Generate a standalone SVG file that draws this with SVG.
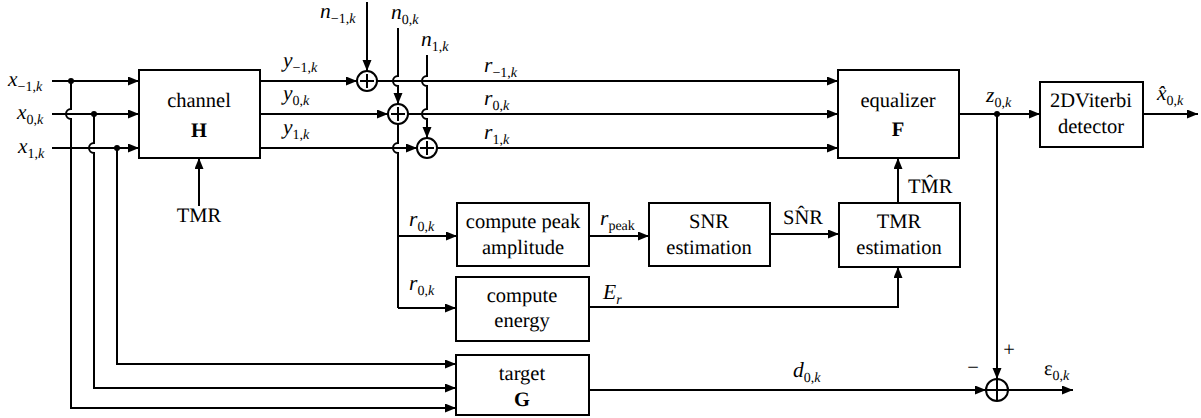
<svg xmlns="http://www.w3.org/2000/svg" width="1201" height="418" viewBox="0 0 1201 418" font-family="'Liberation Serif', 'Times New Roman', serif" text-rendering="geometricPrecision">
<defs>
<marker id="ah" markerUnits="userSpaceOnUse" markerWidth="12" markerHeight="10" refX="11" refY="4.5" orient="auto">
<path d="M0,0 L11,4.5 L0,9 z" fill="#000"/>
</marker>
<style>
.ln{fill:none;stroke:#000;stroke-width:2}
.ar{fill:none;stroke:#000;stroke-width:2;marker-end:url(#ah)}
.bx{fill:#fff;stroke:#000;stroke-width:2}
.sum{fill:#fff;stroke:#000;stroke-width:2}
.t{font-size:20.5px;fill:#000}
.c{text-anchor:middle}
.m{font-size:21.5px;font-style:italic;fill:#000}
.s{font-size:14px;font-style:normal}
.si{font-size:14px;font-style:italic}
.b{font-weight:bold}
</style>
</defs>
<rect width="1201" height="418" fill="#fff"/>

<g id="connectors">
<path class="ar" d="M52,81 H139"/>
<path class="ar" d="M52,114 H139"/>
<path class="ar" d="M52,148 H139"/>
<path class="ar" d="M71,81 V109 A5,5 0 0,0 71,119 V408 H456"/>
<path class="ar" d="M94,114 V143 A5,5 0 0,0 94,153 V388 H456"/>
<path class="ar" d="M117,148 V364 H456"/>
<path class="ar" d="M199,206 V158"/>
<path class="ar" d="M260,81 H357"/>
<path class="ar" d="M260,114 H388"/>
<path class="ar" d="M260,148 H417"/>
<path class="ar" d="M367,2 V71"/>
<path class="ar" d="M398,28 V76 A5,5 0 0,0 398,86 V104"/>
<path class="ar" d="M427,55 V76 A5,5 0 0,0 427,86 V109 A5,5 0 0,0 427,119 V138"/>
<path class="ar" d="M377,81 H838"/>
<path class="ar" d="M408,114 H838"/>
<path class="ar" d="M437,148 H838"/>
<path class="ln" d="M398,124 V143 A5,5 0 0,0 398,153 V308"/>
<path class="ar" d="M398,236 H457"/>
<path class="ar" d="M398,308 H456"/>
<path class="ar" d="M589,236 H649"/>
<path class="ar" d="M770,234 H839"/>
<path class="ar" d="M589,307 H898 V267"/>
<path class="ar" d="M898,203 V158"/>
<path class="ar" d="M959,114 H1040"/>
<path class="ar" d="M1143,114 H1198"/>
<path class="ar" d="M997,114 V379"/>
<path class="ar" d="M589,390 H986"/>
<path class="ar" d="M1008,390 H1073"/>
<circle cx="71" cy="81" r="3" fill="#000"/>
<circle cx="94" cy="114" r="3" fill="#000"/>
<circle cx="117" cy="148" r="3" fill="#000"/>
<circle cx="997" cy="114" r="3" fill="#000"/>
</g>

<g id="sum1"><circle class="sum" cx="367" cy="81" r="10"/><path class="ln" d="M360,81 H374 M367,74 V88"/></g>
<g id="sum2"><circle class="sum" cx="398" cy="114" r="10"/><path class="ln" d="M391,114 H405 M398,107 V121"/></g>
<g id="sum3"><circle class="sum" cx="427" cy="148" r="10"/><path class="ln" d="M420,148 H434 M427,141 V155"/></g>
<g id="sum4"><circle class="sum" cx="997" cy="390" r="11"/><path class="ln" d="M986,390 H1008 M997,379 V401"/></g>

<g id="channel"><rect class="bx" x="139" y="70" width="121" height="88"/>
<text class="t c" x="199" y="107">channel</text><text class="t c b" x="199" y="137">H</text></g>
<g id="equalizer"><rect class="bx" x="838" y="70" width="121" height="88"/>
<text class="t c" x="898" y="107">equalizer</text><text class="t c b" x="898" y="136">F</text></g>
<g id="viterbi"><rect class="bx" x="1040" y="82" width="103" height="65"/>
<text class="t c" x="1091" y="107">2DViterbi</text><text class="t c" x="1091" y="133">detector</text></g>
<g id="peak"><rect class="bx" x="457" y="203" width="132" height="63"/>
<text class="t c" x="523" y="228">compute peak</text><text class="t c" x="523" y="254">amplitude</text></g>
<g id="snr"><rect class="bx" x="649" y="203" width="121" height="63"/>
<text class="t c" x="709" y="228">SNR</text><text class="t c" x="709" y="254">estimation</text></g>
<g id="tmr"><rect class="bx" x="839" y="203" width="121" height="64"/>
<text class="t c" x="899" y="228">TMR</text><text class="t c" x="899" y="254">estimation</text></g>
<g id="energy"><rect class="bx" x="456" y="277" width="133" height="64"/>
<text class="t c" x="522" y="302">compute</text><text class="t c" x="522" y="327">energy</text></g>
<g id="target"><rect class="bx" x="456" y="355" width="133" height="60"/>
<text class="t c" x="522" y="380">target</text><text class="t c b" x="522" y="406">G</text></g>

<g id="labels">
<text class="m" x="8" y="86">x<tspan class="s" dy="5">−1,</tspan><tspan class="si">k</tspan></text>
<text class="m" x="17" y="119">x<tspan class="s" dy="5">0,</tspan><tspan class="si">k</tspan></text>
<text class="m" x="18" y="153">x<tspan class="s" dy="5">1,</tspan><tspan class="si">k</tspan></text>
<text class="t c" x="199" y="222">TMR</text>
<text class="m" x="283" y="67">y<tspan class="s" dy="5">−1,</tspan><tspan class="si">k</tspan></text>
<text class="m" x="283" y="100">y<tspan class="s" dy="5">0,</tspan><tspan class="si">k</tspan></text>
<text class="m" x="283" y="134">y<tspan class="s" dy="5">1,</tspan><tspan class="si">k</tspan></text>
<text class="m" x="320" y="18">n<tspan class="s" dy="5">−1,</tspan><tspan class="si">k</tspan></text>
<text class="m" x="391" y="19">n<tspan class="s" dy="5">0,</tspan><tspan class="si">k</tspan></text>
<text class="m" x="421" y="46">n<tspan class="s" dy="5">1,</tspan><tspan class="si">k</tspan></text>
<text class="m" x="484" y="72">r<tspan class="s" dy="5">−1,</tspan><tspan class="si">k</tspan></text>
<text class="m" x="484" y="105">r<tspan class="s" dy="5">0,</tspan><tspan class="si">k</tspan></text>
<text class="m" x="484" y="139">r<tspan class="s" dy="5">1,</tspan><tspan class="si">k</tspan></text>
<text class="m" x="409" y="226">r<tspan class="s" dy="5">0,</tspan><tspan class="si">k</tspan></text>
<text class="m" x="409" y="290">r<tspan class="s" dy="5">0,</tspan><tspan class="si">k</tspan></text>
<text class="m" x="600" y="225">r<tspan class="s" dy="5">peak</tspan></text>
<text class="t" x="783" y="224">SN̂R</text>
<text class="m" x="603" y="299">E<tspan class="si" dy="5">r</tspan></text>
<text class="t" x="908" y="193">TM̂R</text>
<text class="m" x="986" y="102">z<tspan class="s" dy="5">0,</tspan><tspan class="si">k</tspan></text>
<text class="m" x="1157" y="100">x̂<tspan class="s" dy="5">0,</tspan><tspan class="si">k</tspan></text>
<text class="m" x="793" y="377">d<tspan class="s" dy="5">0,</tspan><tspan class="si">k</tspan></text>
<text class="t" x="1044" y="375">ε<tspan class="s" dy="5">0,</tspan><tspan class="si">k</tspan></text>
<text class="t c" x="1009" y="356">+</text>
<text class="t c" x="973" y="374">−</text>
</g>
</svg>
